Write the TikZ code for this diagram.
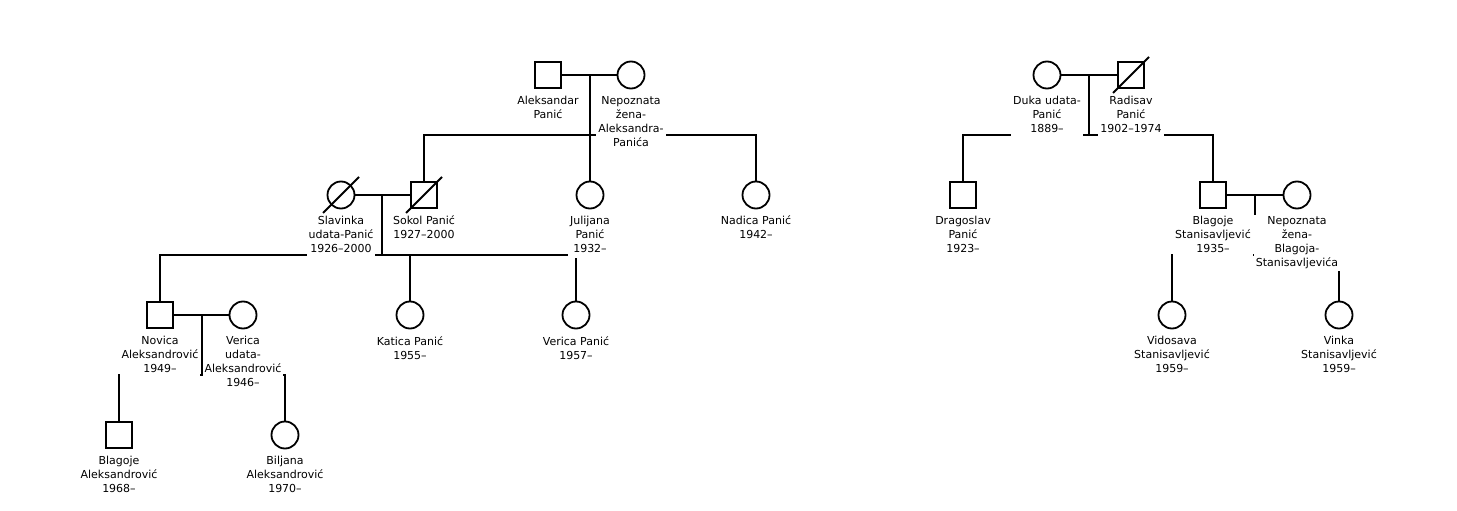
\documentclass[tikz,border=0pt]{standalone}
\usepackage{fontspec}
\setmainfont{DejaVu Sans}
\begin{document}
\begin{tikzpicture}[x=1pt,y=-1pt,
  male/.style={draw,rectangle,minimum size=26pt,inner sep=0pt,line width=1.8pt},
  female/.style={draw,circle,minimum size=27pt,inner sep=0pt,line width=1.8pt},
  lbl/.style={anchor=north,align=center,fill=white,inner xsep=2pt,inner ysep=1pt,
    font={\fontsize{11}{14}\selectfont},execute at begin node=\strut,execute at end node=\strut},
  link/.style={line width=1.8pt},
  dead/.style={line width=1.8pt}]
\useasboundingbox (0,0) rectangle (1457,511);
% persons
\node[male]   (aleksandar) at (548,75) {};
\node[female] (nepoznataA) at (631,75) {};
\node[female] (slavinka)   at (341,195) {};
\node[male]   (sokol)      at (424,195) {};
\node[female] (julijana)   at (590,195) {};
\node[female] (nadica)     at (756,195) {};
\node[male]   (novica)     at (160,315) {};
\node[female] (vericaU)    at (243,315) {};
\node[female] (katica)     at (410,315) {};
\node[female] (vericaP)    at (576,315) {};
\node[male]   (blagojeA)   at (119,435) {};
\node[female] (biljana)    at (285,435) {};
\node[female] (duka)       at (1047,75) {};
\node[male]   (radisav)    at (1131,75) {};
\node[male]   (dragoslav)  at (963,195) {};
\node[male]   (blagojeS)   at (1213,195) {};
\node[female] (nepoznataB) at (1297,195) {};
\node[female] (vidosava)   at (1172,315) {};
\node[female] (vinka)      at (1339,315) {};
% deceased marks
\draw[dead] ([shift={(-18pt,-18pt)}]slavinka.center) -- ([shift={(18pt,18pt)}]slavinka.center);
\draw[dead] ([shift={(-18pt,-18pt)}]sokol.center) -- ([shift={(18pt,18pt)}]sokol.center);
\draw[dead] ([shift={(-18pt,-18pt)}]radisav.center) -- ([shift={(18pt,18pt)}]radisav.center);
% union coordinates
\coordinate (m1) at (590,75);  \coordinate (s1) at (590,135);
\coordinate (m2) at (382,195); \coordinate (s2) at (382,255);
\coordinate (m3) at (202,315); \coordinate (s3) at (202,375);
\coordinate (m4) at (1089,75); \coordinate (s4) at (1089,135);
\coordinate (m5) at (1255,195); \coordinate (s5) at (1255,255);
% family 1
\draw[link] (aleksandar.east) -- (nepoznataA.west);
\draw[link] (m1) -- (julijana.north);
\draw[link] (sokol.north) |- (nadica.north |- s1) -- (nadica.north);
% family 2
\draw[link] (slavinka.east) -- (sokol.west);
\draw[link] (m2) -- (s2);
\draw[link] (novica.north) |- (vericaP.north |- s2) -- (vericaP.north);
\draw[link] (katica.north |- s2) -- (katica.north);
% family 3
\draw[link] (novica.east) -- (vericaU.west);
\draw[link] (m3) -- (s3);
\draw[link] (blagojeA.north) |- (biljana.north |- s3) -- (biljana.north);
% family 4
\draw[link] (duka.east) -- (radisav.west);
\draw[link] (m4) -- (s4);
\draw[link] (dragoslav.north) |- (blagojeS.north |- s4) -- (blagojeS.north);
% family 5
\draw[link] (blagojeS.east) -- (nepoznataB.west);
\draw[link] (m5) -- (s5);
\draw[link] (vidosava.north) |- (vinka.north |- s5) -- (vinka.north);
% labels
\node[lbl] (aleksandarL) at ([yshift=-20pt]aleksandar.center) {Aleksandar\\Panić};
\node[lbl] (nepoznataAL) at ([yshift=-20pt]nepoznataA.center) {Nepoznata\\žena-\\Aleksandra-\\Panića};
\node[lbl] (slavinkaL) at ([yshift=-20pt]slavinka.center) {Slavinka\\udata-Panić\\1926–2000};
\node[lbl] (sokolL) at ([yshift=-20pt]sokol.center) {Sokol Panić\\1927–2000};
\node[lbl] (julijanaL) at ([yshift=-20pt]julijana.center) {Julijana\\Panić\\1932–};
\node[lbl] (nadicaL) at ([yshift=-20pt]nadica.center) {Nadica Panić\\1942–};
\node[lbl] (novicaL) at ([yshift=-20pt]novica.center) {Novica\\Aleksandrović\\1949–};
\node[lbl] (vericaUL) at ([yshift=-20pt]vericaU.center) {Verica\\udata-\\Aleksandrović\\1946–};
\node[lbl] (katicaL) at ([yshift=-20pt]katica.center) {Katica Panić\\1955–};
\node[lbl] (vericaPL) at ([yshift=-20pt]vericaP.center) {Verica Panić\\1957–};
\node[lbl] (blagojeAL) at ([yshift=-20pt]blagojeA.center) {Blagoje\\Aleksandrović\\1968–};
\node[lbl] (biljanaL) at ([yshift=-20pt]biljana.center) {Biljana\\Aleksandrović\\1970–};
\node[lbl] (dukaL) at ([yshift=-20pt]duka.center) {Duka udata-\\Panić\\1889–};
\node[lbl] (radisavL) at ([yshift=-20pt]radisav.center) {Radisav\\Panić\\1902–1974};
\node[lbl] (dragoslavL) at ([yshift=-20pt]dragoslav.center) {Dragoslav\\Panić\\1923–};
\node[lbl] (blagojeSL) at ([yshift=-20pt]blagojeS.center) {Blagoje\\Stanisavljević\\1935–};
\node[lbl] (nepoznataBL) at ([yshift=-20pt]nepoznataB.center) {Nepoznata\\žena-\\Blagoja-\\Stanisavljevića};
\node[lbl] (vidosavaL) at ([yshift=-20pt]vidosava.center) {Vidosava\\Stanisavljević\\1959–};
\node[lbl] (vinkaL) at ([yshift=-20pt]vinka.center) {Vinka\\Stanisavljević\\1959–};
\end{tikzpicture}
\end{document}
